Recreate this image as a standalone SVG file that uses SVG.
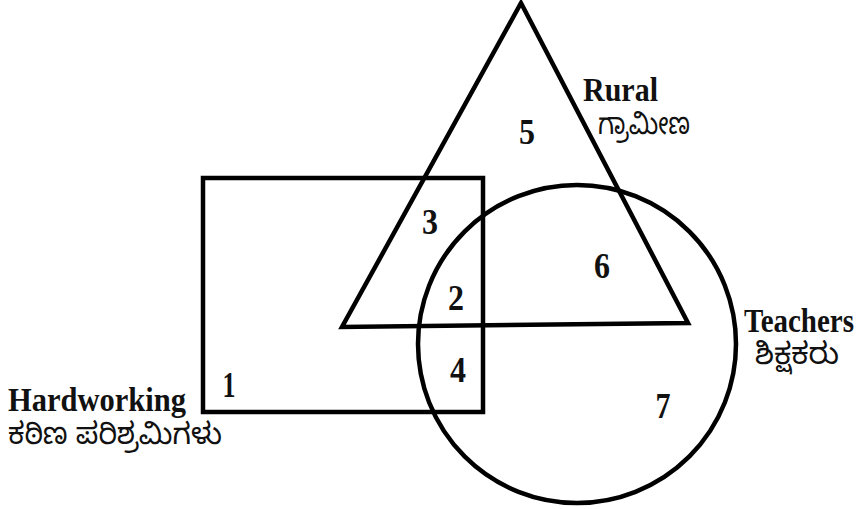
<svg xmlns="http://www.w3.org/2000/svg" width="861" height="509" viewBox="0 0 861 509">
<style>
.sh{fill:none;stroke:#000;stroke-width:4.5;stroke-linejoin:miter}
.num{font-family:"Liberation Serif","Times New Roman",serif;font-weight:bold;font-size:35px;fill:#111;text-anchor:middle}
.en{font-family:"Liberation Serif","Times New Roman",serif;font-weight:bold;font-size:33px;fill:#111}
.kn{font-family:"Noto Sans Kannada","Noto Serif Kannada","Tunga","Kedage","Lohit Kannada",sans-serif;font-size:30px;fill:#111}
</style>
<rect width="861" height="509" fill="#fff"/>
<g id="hardworking">
<rect class="sh" x="203" y="178" width="280" height="234"/>
<text class="en" x="8" y="411" textLength="178" lengthAdjust="spacingAndGlyphs">Hardworking</text>
<text class="kn" x="8" y="444" textLength="214" lengthAdjust="spacingAndGlyphs">ಕಠಿಣ ಪರಿಶ್ರಮಿಗಳು</text>
</g>
<g id="rural">
<polygon class="sh" points="521,3 688,323 342,327"/>
<text class="en" x="583" y="101" textLength="75" lengthAdjust="spacingAndGlyphs">Rural</text>
<text class="kn" x="598" y="134" textLength="92" lengthAdjust="spacingAndGlyphs">ಗ್ರಾಮೀಣ</text>
</g>
<g id="teachers">
<circle class="sh" cx="577" cy="344" r="159"/>
<text class="en" transform="translate(744,332) scale(1,1.18)" x="0" y="0" style="font-size:28px" textLength="110" lengthAdjust="spacingAndGlyphs">Teachers</text>
<text class="kn" x="755" y="364" textLength="84" lengthAdjust="spacingAndGlyphs">ಶಿಕ್ಷಕರು</text>
</g>
<g id="regions">
<text class="num" x="229" y="397" textLength="13" lengthAdjust="spacingAndGlyphs">1</text>
<text class="num" x="456" y="310" textLength="16" lengthAdjust="spacingAndGlyphs">2</text>
<text class="num" x="430" y="234" textLength="16" lengthAdjust="spacingAndGlyphs">3</text>
<text class="num" x="458" y="382" textLength="16" lengthAdjust="spacingAndGlyphs">4</text>
<text class="num" x="527" y="144" textLength="16" lengthAdjust="spacingAndGlyphs">5</text>
<text class="num" x="602" y="278" textLength="16" lengthAdjust="spacingAndGlyphs">6</text>
<text class="num" x="663" y="418" textLength="15" lengthAdjust="spacingAndGlyphs">7</text>
</g>
</svg>
